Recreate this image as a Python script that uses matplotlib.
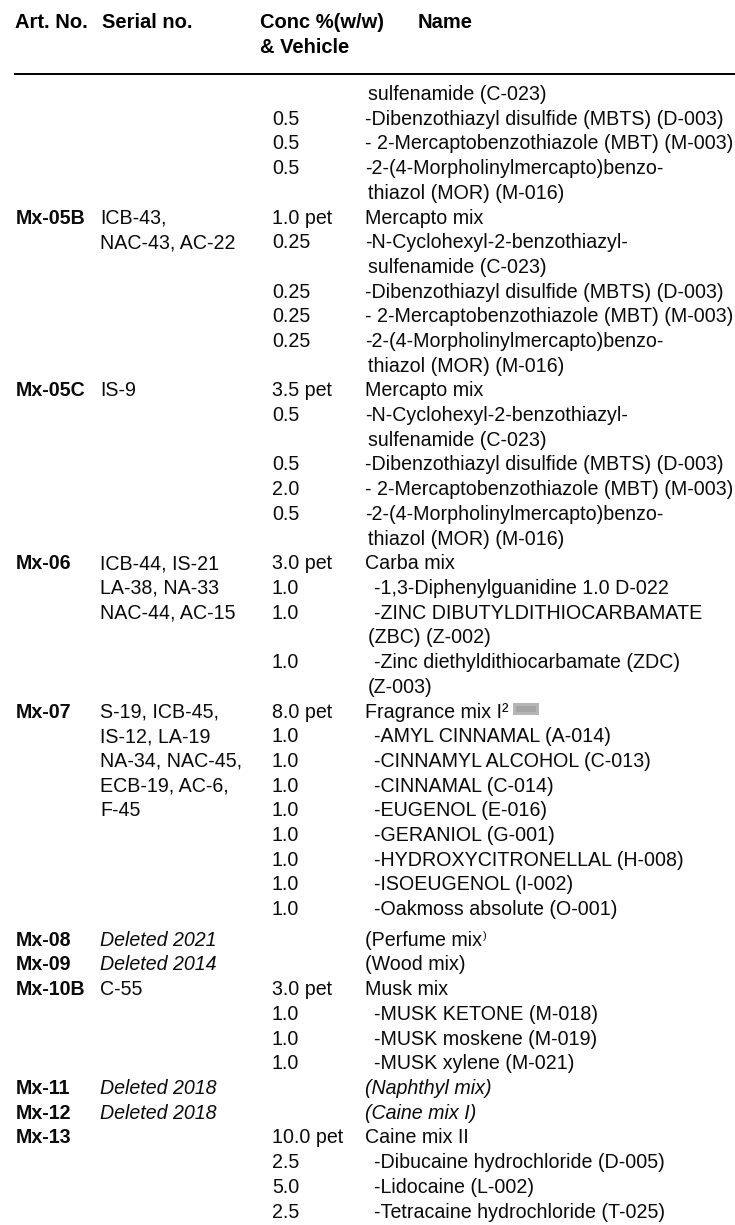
import matplotlib
matplotlib.use("Agg")
import matplotlib.pyplot as plt
from matplotlib.patches import Rectangle

# ---------------- data ----------------
header_art = "Art. No."
header_serial = "Serial no."
header_conc = ["Conc %(w/w)", "& Vehicle"]
header_name = "Name"

art_col = ["", "", "", "", "",
           "Mx-05B", "", "", "", "", "", "",
           "Mx-05C", "", "", "", "", "", "",
           "Mx-06", "", "", "", "", "",
           "Mx-07", "", "", "", "", "", "", "", "",
           "Mx-08", "Mx-09", "Mx-10B", "", "", "",
           "Mx-11", "Mx-12", "Mx-13", "", "", ""]

serial_col = ["", "", "", "", "",
              "ICB-43,", "NAC-43, AC-22", "", "", "", "", "",
              "IS-9", "", "", "", "", "", "",
              "ICB-44, IS-21", "LA-38, NA-33", "NAC-44, AC-15", "", "", "",
              "S-19, ICB-45,", "IS-12, LA-19", "NA-34, NAC-45,", "ECB-19, AC-6,", "F-45", "", "", "", "",
              "Deleted 2021", "Deleted 2014", "C-55", "", "", "",
              "Deleted 2018", "Deleted 2018", "", "", "", ""]

conc_col = ["", "0.5", "0.5", "0.5", "",
            "1.0 pet", "0.25", "", "0.25", "0.25", "0.25", "",
            "3.5 pet", "0.5", "", "0.5", "2.0", "0.5", "",
            "3.0 pet", "1.0", "1.0", "", "1.0", "",
            "8.0 pet", "1.0", "1.0", "1.0", "1.0", "1.0", "1.0", "1.0", "1.0",
            "", "", "3.0 pet", "1.0", "1.0", "1.0",
            "", "", "10.0 pet", "2.5", "5.0", "2.5"]

name_col = ["sulfenamide (C-023)",
            "-Dibenzothiazyl disulfide (MBTS) (D-003)",
            "- 2-Mercaptobenzothiazole (MBT) (M-003)",
            "-2-(4-Morpholinylmercapto)benzo-",
            "thiazol (MOR) (M-016)",
            "Mercapto mix",
            "-N-Cyclohexyl-2-benzothiazyl-",
            "sulfenamide (C-023)",
            "-Dibenzothiazyl disulfide (MBTS) (D-003)",
            "- 2-Mercaptobenzothiazole (MBT) (M-003)",
            "-2-(4-Morpholinylmercapto)benzo-",
            "thiazol (MOR) (M-016)",
            "Mercapto mix",
            "-N-Cyclohexyl-2-benzothiazyl-",
            "sulfenamide (C-023)",
            "-Dibenzothiazyl disulfide (MBTS) (D-003)",
            "- 2-Mercaptobenzothiazole (MBT) (M-003)",
            "-2-(4-Morpholinylmercapto)benzo-",
            "thiazol (MOR) (M-016)",
            "Carba mix",
            "-1,3-Diphenylguanidine 1.0 D-022",
            "-ZINC DIBUTYLDITHIOCARBAMATE",
            "(ZBC) (Z-002)",
            "-Zinc diethyldithiocarbamate (ZDC)",
            "(Z-003)",
            "Fragrance mix I\u00b2",
            "-AMYL CINNAMAL (A-014)",
            "-CINNAMYL ALCOHOL (C-013)",
            "-CINNAMAL (C-014)",
            "-EUGENOL (E-016)",
            "-GERANIOL (G-001)",
            "-HYDROXYCITRONELLAL (H-008)",
            "-ISOEUGENOL (I-002)",
            "-Oakmoss absolute (O-001)",
            "(Perfume mix",
            "(Wood mix)",
            "Musk mix",
            "-MUSK KETONE (M-018)",
            "-MUSK moskene (M-019)",
            "-MUSK xylene (M-021)",
            "(Naphthyl mix)",
            "(Caine mix I)",
            "Caine mix II",
            "-Dibucaine hydrochloride (D-005)",
            "-Lidocaine (L-002)",
            "-Tetracaine hydrochloride (T-025)"]

# ---------------- layout ----------------
W, H = 735, 1225
FS = 14.1
FAM = ['Liberation Sans', 'DejaVu Sans']

X_ART_H, X_SER_H, X_CONC_H, X_NAME_H = 15, 102, 260, 418
X_ART, X_SER, X_CONC = 16, 100, 272
X_NAME, X_CONT, X_ITEM = 365, 368, 374
Y_HDR1, Y_HDR2 = 28, 53
Y_RULE = 74
Y0, DY, GAP, GAP_ROW = 100, 24.7, 6, 34

continuation_rows = {0, 4, 7, 11, 14, 18, 22, 24}
indented_item_rows = {20, 21, 23, 26, 27, 28, 29, 30, 31, 32, 33, 37, 38, 39, 43, 44, 45}
italic_serial_rows = {34, 35, 40, 41}
italic_name_rows = {40, 41}

fig = plt.figure(figsize=(W / 100, H / 100), dpi=100)
ax = fig.add_axes([0, 0, 1, 1])
ax.set_xlim(0, W)
ax.set_ylim(H, 0)
ax.axis('off')

hkw = dict(fontsize=FS + 0.4, fontweight='bold', family=FAM, va='baseline', ha='left', color='black')
ax.text(X_ART_H, Y_HDR1, header_art, **hkw)
ax.text(X_SER_H, Y_HDR1, header_serial, **hkw)
ax.text(X_CONC_H, Y_HDR1, header_conc[0], **hkw)
ax.text(X_CONC_H, Y_HDR2, header_conc[1], **hkw)
ax.text(X_NAME_H, Y_HDR1, header_name, **hkw)
ax.plot([14, W], [Y_RULE, Y_RULE], color='black', lw=1.4, solid_capstyle='butt')

bkw = dict(fontsize=FS, family=FAM, va='baseline', ha='left', color='#0a0a0a')

name_texts = {}
for i in range(len(name_col)):
    y = Y0 + i * DY + (GAP if i >= GAP_ROW else 0)
    if art_col[i]:
        ax.text(X_ART, y, art_col[i], fontweight='bold', **bkw)
    if serial_col[i]:
        ax.text(X_SER, y, serial_col[i],
                fontstyle='italic' if i in italic_serial_rows else 'normal', **bkw)
    if conc_col[i]:
        ax.text(X_CONC, y, conc_col[i], **bkw)
    if name_col[i]:
        if i in continuation_rows:
            x = X_CONT
        elif i in indented_item_rows:
            x = X_ITEM
        else:
            x = X_NAME
        name_texts[i] = (ax.text(x, y, name_col[i],
                                 fontstyle='italic' if i in italic_name_rows else 'normal', **bkw), y)

fig.canvas.draw()
r = fig.canvas.get_renderer()

# superscript closing parenthesis after "(Perfume mix"
t, y = name_texts[34]
bb = t.get_window_extent(r)
ax.text(bb.x1 + 1, y - 7, ")", fontsize=FS * 0.55, family=FAM, va='baseline', ha='left', color='#0a0a0a')

# small grey image placeholder after "Fragrance mix I²"
t, y = name_texts[25]
bb = t.get_window_extent(r)
ax.add_patch(Rectangle((bb.x1 + 5, y - 15), 26, 12, facecolor='#b5b5b5', edgecolor='none'))
ax.add_patch(Rectangle((bb.x1 + 8, y - 12), 20, 6, facecolor='#9a9a9a', edgecolor='none', alpha=0.6))

fig.savefig("out.png", dpi=100)
